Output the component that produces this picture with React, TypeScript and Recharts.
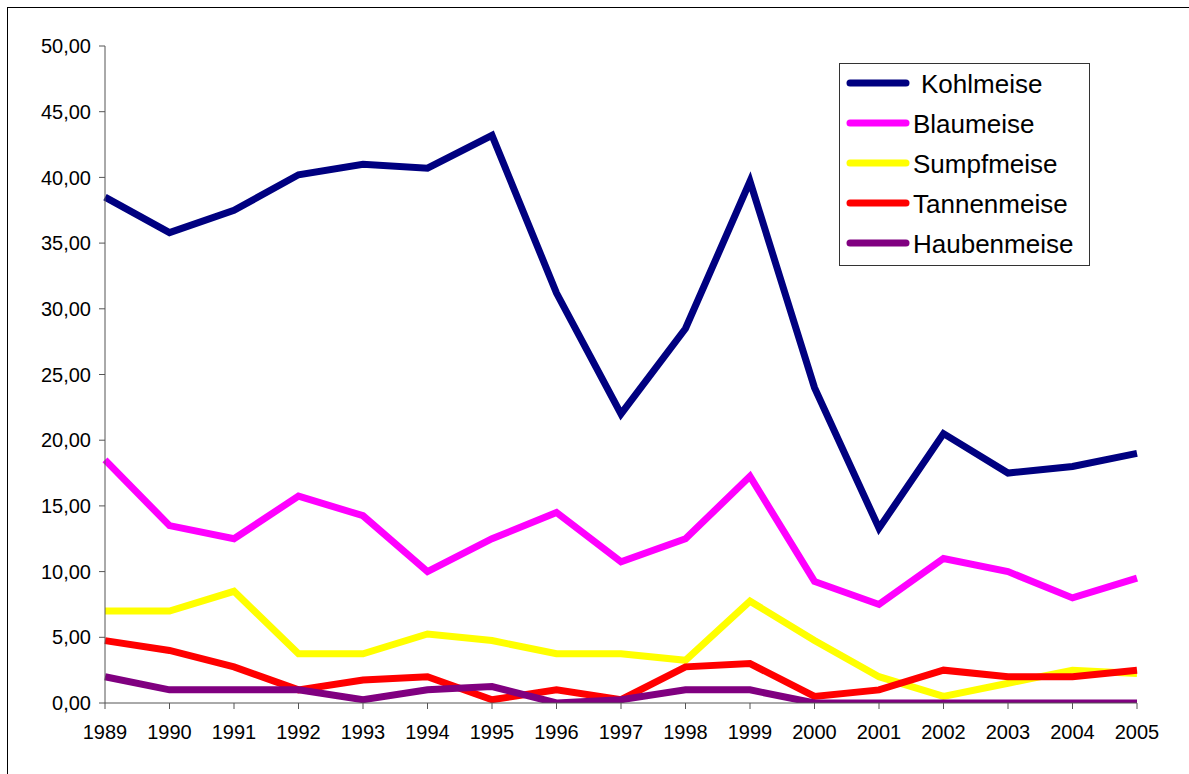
import { LineChart, Line, XAxis, YAxis, Legend } from 'recharts';

const years = ['1989', '1990', '1991', '1992', '1993', '1994', '1995', '1996', '1997', '1998', '1999', '2000', '2001', '2002', '2003', '2004', '2005'];

const kohlmeise = [38.5, 35.8, 37.5, 40.2, 41.0, 40.7, 43.2, 31.2, 22.0, 28.5, 39.7, 24.0, 13.3, 20.5, 17.5, 18.0, 19.0];
const blaumeise = [18.5, 13.5, 12.5, 15.75, 14.25, 10.0, 12.5, 14.5, 10.75, 12.5, 17.25, 9.25, 7.5, 11.0, 10.0, 8.0, 9.5];
const sumpfmeise = [7.0, 7.0, 8.5, 3.75, 3.75, 5.25, 4.75, 3.75, 3.75, 3.25, 7.75, 4.75, 2.0, 0.5, 1.5, 2.5, 2.25];
const tannenmeise = [4.75, 4.0, 2.75, 1.0, 1.75, 2.0, 0.25, 1.0, 0.25, 2.75, 3.0, 0.5, 1.0, 2.5, 2.0, 2.0, 2.5];
const haubenmeise = [2.0, 1.0, 1.0, 1.0, 0.25, 1.0, 1.25, 0, 0.25, 1.0, 1.0, 0, 0, 0, 0, 0, 0];

const yTicks = [0, 5, 10, 15, 20, 25, 30, 35, 40, 45, 50];

const series = [
  { key: 'Kohlmeise', values: kohlmeise, color: '#000080' },
  { key: 'Blaumeise', values: blaumeise, color: '#FF00FF' },
  { key: 'Sumpfmeise', values: sumpfmeise, color: '#FFFF00' },
  { key: 'Tannenmeise', values: tannenmeise, color: '#FF0000' },
  { key: 'Haubenmeise', values: haubenmeise, color: '#800080' },
];

const data = years.map((year, i) => {
  const row: Record<string, string | number> = { year };
  series.forEach((s) => (row[s.key] = s.values[i]));
  return row;
});

const FONT = '"Liberation Sans", Arial, sans-serif';

// Excel-style boxed legend; keeps series order instead of recharts' sorted payload
function MeisenLegend() {
  return (
    <div
      style={{
        width: 251,
        height: 203,
        boxSizing: 'border-box',
        border: '1px solid #333',
        background: '#fff',
        fontFamily: FONT,
        fontSize: 26,
        color: '#000',
      }}
    >
      {series.map((s, i) => (
        <div key={s.key} style={{ height: 40.2, display: 'flex', alignItems: 'center' }}>
          <svg width={72} height={12} style={{ flexShrink: 0, marginTop: -3 }}>
            <line x1={10} y1={6} x2={66} y2={6} stroke={s.color} strokeWidth={7} strokeLinecap="round" />
          </svg>
          <span style={{ marginLeft: i === 0 ? 9 : 1 }}>{s.key}</span>
        </div>
      ))}
    </div>
  );
}

export default function App() {
  return (
    <div
      style={{
        position: 'fixed',
        left: 0,
        top: 0,
        width: 1189,
        height: 774,
        overflow: 'hidden',
        background: '#fff',
      }}
    >
      {/* outer frame, right and bottom edges run off the page */}
      <div
        style={{
          position: 'absolute',
          left: 7,
          top: 7,
          width: 1220,
          height: 800,
          border: '1px solid #000',
        }}
      />
      <div style={{ position: 'absolute', left: 0, top: 0 }}>
        <LineChart width={1189} height={774} data={data} margin={{ top: 46, right: 52, left: 0, bottom: 41 }}>
          <XAxis
            dataKey="year"
            height={30}
            stroke="#555"
            tickSize={6}
            tickMargin={16}
            interval={0}
            tick={{ fill: '#000', fontSize: 20, fontFamily: FONT }}
          />
          <YAxis
            width={105}
            domain={[0, 50]}
            ticks={yTicks}
            allowDataOverflow
            stroke="#555"
            tickSize={6}
            tickMargin={8}
            tickFormatter={(v: number) => v.toFixed(2).replace('.', ',')}
            tick={{ fill: '#000', fontSize: 20, fontFamily: FONT }}
          />
          <Legend
            layout="vertical"
            align="center"
            verticalAlign="middle"
            content={<MeisenLegend />}
            wrapperStyle={{ left: 839, top: 63, width: 251, height: 203 }}
          />
          {series.map((s) => (
            <Line
              key={s.key}
              type="linear"
              dataKey={s.key}
              stroke={s.color}
              strokeWidth={7}
              dot={false}
              activeDot={false}
              isAnimationActive={false}
            />
          ))}
        </LineChart>
      </div>
    </div>
  );
}
